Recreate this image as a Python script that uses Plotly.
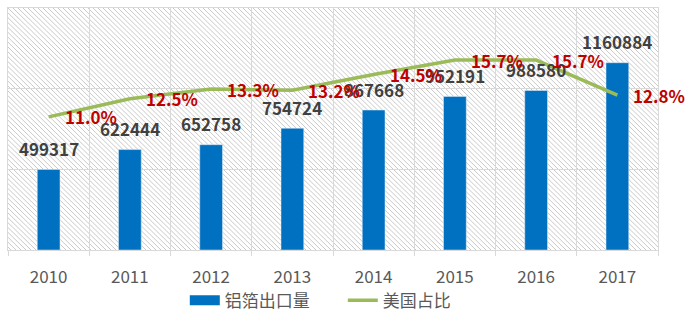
import base64
import plotly.graph_objects as go

years = ["2010", "2011", "2012", "2013", "2014", "2015", "2016", "2017"]
export_volume = [499317, 622444, 652758, 754724, 867668, 952191, 988580, 1160884]
us_share = [11.0, 12.5, 13.3, 13.2, 14.5, 15.7, 15.7, 12.8]
bar_name = "铝箔出口量"
line_name = "美国占比"

BLUE = "#0070C0"
GREEN = "#9BBB59"
GRID = "#D9D9D9"
FONT = "Noto Sans CJK SC"

fig = go.Figure()
fig.add_trace(go.Bar(x=years, y=export_volume, marker_color=BLUE, width=0.28,
                     showlegend=False, name=bar_name))
fig.add_trace(go.Scatter(x=years, y=us_share, mode="lines", yaxis="y2",
                         line=dict(color=GREEN, width=3.5), showlegend=False, name=line_name))
# legend proxies
fig.add_trace(go.Scatter(x=[None], y=[None], mode="lines", name=bar_name,
                         line=dict(color=BLUE, width=10)))
fig.add_trace(go.Scatter(x=[None], y=[None], mode="lines", name=line_name,
                         line=dict(color=GREEN, width=3.5)))

for i, v in enumerate(export_volume):
    fig.add_annotation(x=i, y=v, xref="x", yref="y", text=f"<b>{v}</b>",
                       showarrow=False, yshift=21, yanchor="middle",
                       font=dict(family=FONT, size=17, color="#404040"))
for i, p in enumerate(us_share):
    fig.add_annotation(x=i, y=p, xref="x", yref="y2", text=f"<b>{p:.1f}%</b>",
                       showarrow=False, xanchor="left", xshift=14, yanchor="middle",
                       font=dict(family=FONT, size=17, color="#C00000"))

svg = ("<svg xmlns='http://www.w3.org/2000/svg' width='650' height='248'>"
       "<defs><pattern id='p' width='5' height='5' patternUnits='userSpaceOnUse'>"
       "<path d='M0,0 L5,5 M-1,4 L1,6 M4,-1 L6,1' stroke='#C8C8C8' stroke-width='1'/>"
       "</pattern></defs><rect width='100%' height='100%' fill='white'/>"
       "<rect width='100%' height='100%' fill='url(#p)'/></svg>")
src = "data:image/svg+xml;base64," + base64.b64encode(svg.encode()).decode()
fig.add_layout_image(source=src, xref="paper", yref="paper", x=0, y=1, sizex=1, sizey=1,
                     sizing="stretch", layer="below", xanchor="left", yanchor="top")

fig.update_layout(
    width=693, height=327,
    margin=dict(l=8, r=35, t=8, b=71),
    paper_bgcolor="white", plot_bgcolor="rgba(0,0,0,0)",
    font=dict(family=FONT, color="#595959"),
    xaxis=dict(type="category", tickson="boundaries", showgrid=True, gridcolor=GRID,
               gridwidth=1, ticks="outside", ticklen=5, tickcolor=GRID,
               showline=True, linecolor=GRID, mirror=True,
               tickfont=dict(family=FONT, size=17, color="#595959"),
               ticklabelstandoff=12, range=[-0.5, 7.5]),
    yaxis=dict(range=[0, 1500000], dtick=500000, showticklabels=False, showgrid=True,
               gridcolor=GRID, zeroline=False, showline=True, linecolor=GRID, mirror=True),
    yaxis2=dict(range=[0, 20], overlaying="y", side="right", showticklabels=False,
                showgrid=False, zeroline=False),
    legend=dict(orientation="h", x=0.272, xanchor="left", y=-0.21, yanchor="middle",
                font=dict(family=FONT, size=17, color="#595959"), itemwidth=30,
                entrywidth=113, entrywidthmode="pixels"),
)

fig.write_html("out.html")
